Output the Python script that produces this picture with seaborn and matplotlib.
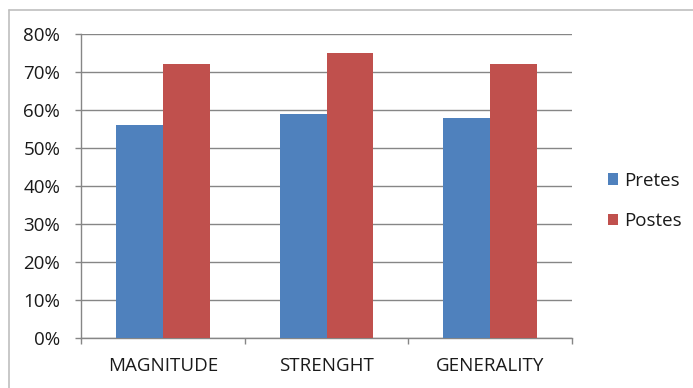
import matplotlib
matplotlib.use("Agg")
import matplotlib.pyplot as plt
from matplotlib.lines import Line2D
from matplotlib.patches import Patch
from matplotlib.ticker import PercentFormatter, FixedLocator
import seaborn as sns
import pandas as pd

categories = ["MAGNITUDE", "STRENGHT", "GENERALITY"]
pretes = [0.56, 0.59, 0.58]
postes = [0.72, 0.75, 0.72]
series_names = ["Pretes", "Postes"]
colors = ["#4F81BD", "#C0504D"]

df = pd.DataFrame({
    "category": categories * 2,
    "value": pretes + postes,
    "series": [series_names[0]] * 3 + [series_names[1]] * 3,
})

sns.set_theme(style="white")
plt.rcParams["font.family"] = ["Open Sans", "DejaVu Sans"]

W, H = 693, 388
fig = plt.figure(figsize=(W / 100, H / 100), dpi=100)
ax = fig.add_axes([81 / W, 1 - 338 / H, (572 - 81) / W, (338 - 34) / H])

sns.barplot(data=df, x="category", y="value", hue="series",
            palette=colors, width=2 / 3.5, gap=0, saturation=1,
            edgecolor="none", linewidth=0, legend=False, ax=ax, zorder=3)

grid_c = "#868686"
text_c = "#1a1a1a"
fs = 13.5
ax.set_xlim(-0.5, 2.5)
ax.set_ylim(0, 0.8)
ax.yaxis.set_major_locator(FixedLocator([i / 10 for i in range(9)]))
ax.yaxis.set_major_formatter(PercentFormatter(1.0, decimals=0))
ax.grid(axis="y", color=grid_c, linewidth=1.0, zorder=0)
ax.set_axisbelow(True)
ax.set_xlabel("")
ax.set_ylabel("")

for side in ["top", "right"]:
    ax.spines[side].set_visible(False)
for side in ["left", "bottom"]:
    ax.spines[side].set_color(grid_c)
    ax.spines[side].set_linewidth(1.0)

ax.tick_params(axis="y", which="major", length=4, width=1, color=grid_c,
               direction="out", left=True, pad=11, labelsize=fs,
               labelcolor=text_c)
ax.tick_params(axis="x", which="major", length=0, pad=14, labelsize=fs,
               labelcolor=text_c)
ax.xaxis.set_minor_locator(FixedLocator([-0.5, 0.5, 1.5, 2.5]))
ax.tick_params(axis="x", which="minor", length=4, width=1, color=grid_c,
               direction="out", bottom=True)

handles = [Patch(facecolor=c, edgecolor="none") for c in colors]
fig.legend(handles, series_names, loc="center left",
           bbox_to_anchor=(600 / W, 1 - 201 / H), frameon=False,
           borderaxespad=0, fontsize=fs, labelspacing=1.2,
           handlelength=0.55, handleheight=0.55, handletextpad=0.35,
           labelcolor=text_c)

# chart frame edges along the top and left
frame_c = "#BFBFBF"
fig.add_artist(Line2D([9 / W, 1], [1 - 10 / H, 1 - 10 / H],
                      transform=fig.transFigure, color=frame_c, linewidth=1.2))
fig.add_artist(Line2D([9 / W, 9 / W], [0, 1 - 10 / H],
                      transform=fig.transFigure, color=frame_c, linewidth=1.2))

fig.savefig("out.png", dpi=100)
